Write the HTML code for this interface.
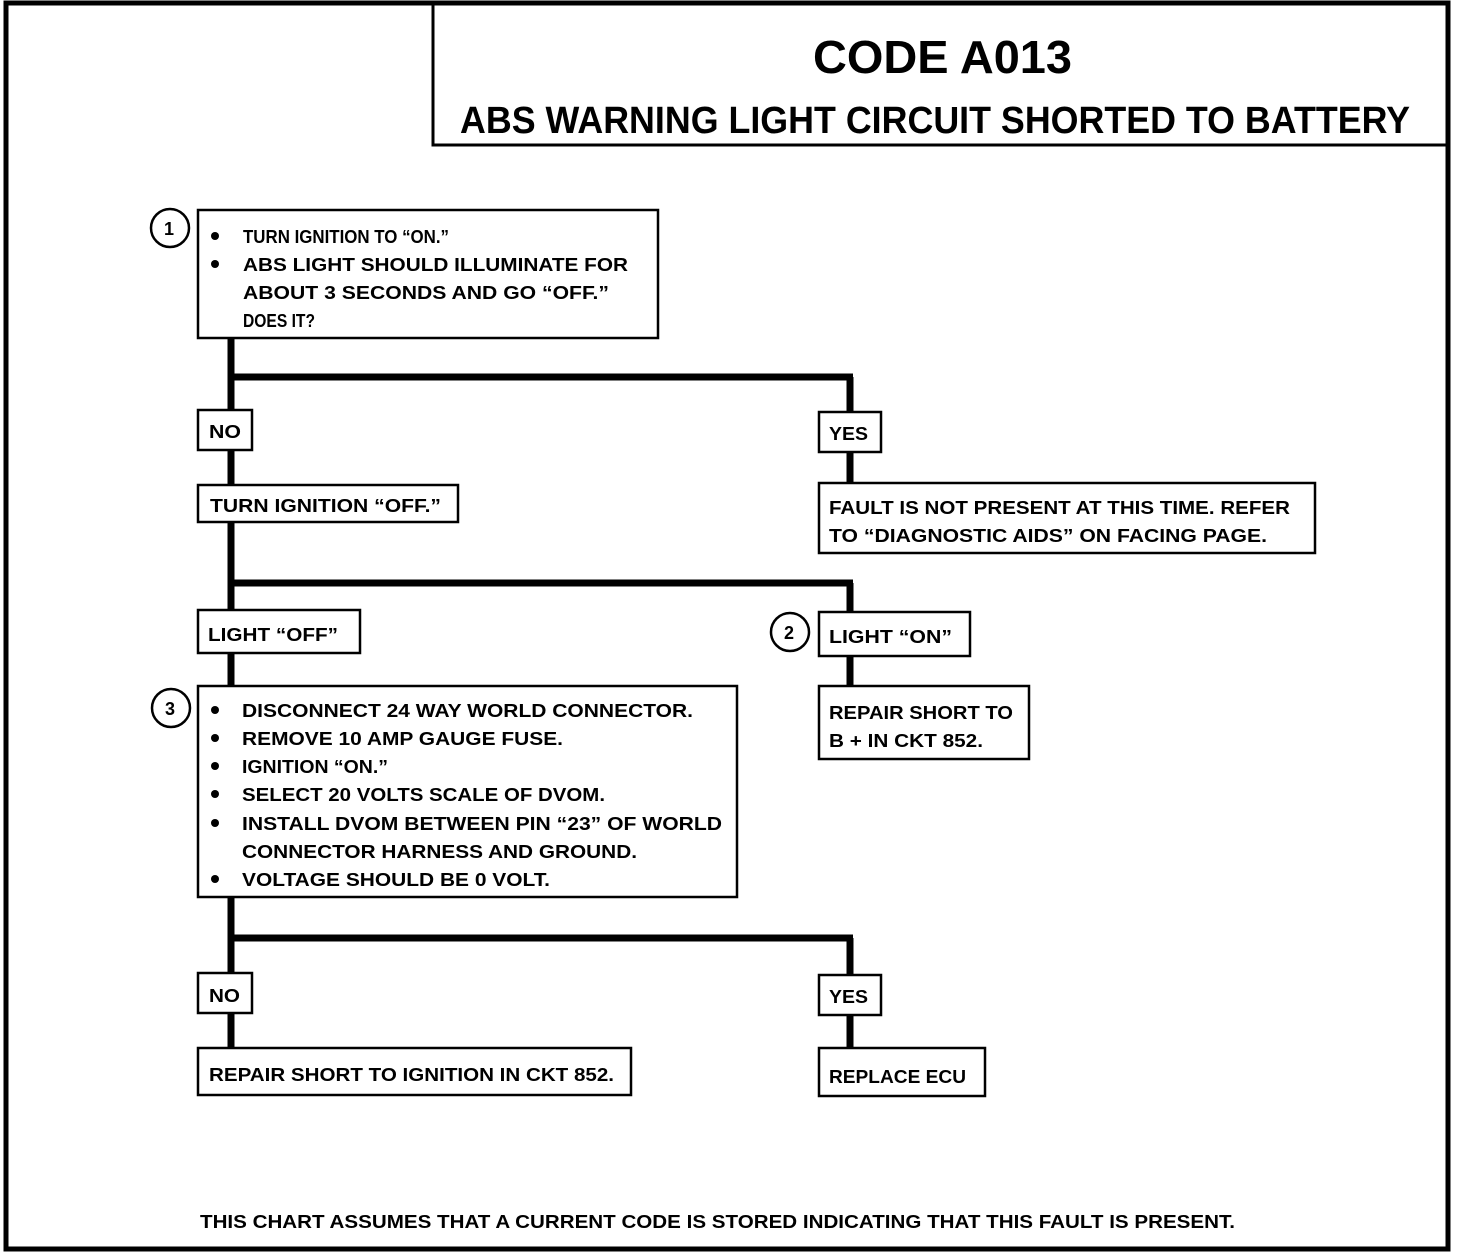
<!DOCTYPE html>
<html><head><meta charset="utf-8"><style>
html,body{margin:0;padding:0;background:#fff;}
svg{display:block;}
text{font-family:"Liberation Sans",sans-serif;font-weight:bold;fill:#000;}
</style></head><body>
<svg width="1472" height="1254" viewBox="0 0 1472 1254" xmlns="http://www.w3.org/2000/svg">
<rect x="0" y="0" width="1472" height="1254" fill="#fff"/>
<!-- outer border -->
<rect x="6" y="3" width="1442" height="1246" fill="none" stroke="#000" stroke-width="5"/>
<!-- title box -->
<rect x="433" y="4" width="1014" height="141" fill="none" stroke="#000" stroke-width="3"/>
<text x="813" y="73" font-size="46" textLength="259" lengthAdjust="spacingAndGlyphs">CODE A013</text>
<text x="460" y="133" font-size="38" textLength="950" lengthAdjust="spacingAndGlyphs">ABS WARNING LIGHT CIRCUIT SHORTED TO BATTERY</text>

<!-- connectors -->
<g stroke="#000" stroke-width="7" fill="none">
<path d="M231 338 V410 M231 450 V485 M228 377 H853 M850 377 V412 M850 452 V483"/>
<path d="M231 522 V610 M231 653 V686 M228 583 H853 M850 583 V612 M850 656 V686"/>
<path d="M231 897 V973 M231 1013 V1048 M228 938 H853 M850 938 V975 M850 1015 V1048"/>
</g>

<g fill="#fff" stroke="#000" stroke-width="2.5">
<rect x="198" y="210" width="460" height="128"/>
<rect x="198" y="410" width="54" height="40"/>
<rect x="819" y="412" width="62" height="40"/>
<rect x="198" y="485" width="260" height="37"/>
<rect x="819" y="483" width="496" height="70"/>
<rect x="198" y="610" width="162" height="43"/>
<rect x="819" y="612" width="151" height="44"/>
<rect x="819" y="686" width="210" height="73"/>
<rect x="198" y="686" width="539" height="211"/>
<rect x="198" y="973" width="54" height="40"/>
<rect x="819" y="975" width="62" height="40"/>
<rect x="198" y="1048" width="433" height="47"/>
<rect x="819" y="1048" width="166" height="48"/>
<circle cx="170" cy="228" r="19"/>
<circle cx="790" cy="632" r="19"/>
<circle cx="171" cy="708" r="19"/>
</g>
<text x="164" y="235" font-size="18">1</text>
<text x="784" y="639" font-size="18">2</text>
<text x="165" y="715" font-size="18">3</text>

<g font-size="18">
<g fill="#000">
<circle cx="215" cy="236" r="4"/><circle cx="215" cy="264" r="4"/>
<circle cx="215" cy="710" r="4"/><circle cx="215" cy="738" r="4"/><circle cx="215" cy="766" r="4"/><circle cx="215" cy="794" r="4"/><circle cx="215" cy="823" r="4"/><circle cx="215" cy="879" r="4"/>
</g>
<text x="243" y="243" textLength="206" lengthAdjust="spacingAndGlyphs">TURN IGNITION TO “ON.”</text>
<text x="243" y="271" textLength="385" lengthAdjust="spacingAndGlyphs">ABS LIGHT SHOULD ILLUMINATE FOR</text>
<text x="243" y="299" textLength="366" lengthAdjust="spacingAndGlyphs">ABOUT 3 SECONDS AND GO “OFF.”</text>
<text x="243" y="327" textLength="72" lengthAdjust="spacingAndGlyphs">DOES IT?</text>

<text x="209" y="438" textLength="32" lengthAdjust="spacingAndGlyphs">NO</text>
<text x="829" y="440" textLength="39" lengthAdjust="spacingAndGlyphs">YES</text>
<text x="210" y="512" textLength="231" lengthAdjust="spacingAndGlyphs">TURN IGNITION “OFF.”</text>
<text x="829" y="514" textLength="461" lengthAdjust="spacingAndGlyphs">FAULT IS NOT PRESENT AT THIS TIME.  REFER</text>
<text x="829" y="542" textLength="438" lengthAdjust="spacingAndGlyphs">TO “DIAGNOSTIC AIDS” ON FACING PAGE.</text>
<text x="208" y="641" textLength="130" lengthAdjust="spacingAndGlyphs">LIGHT “OFF”</text>
<text x="829" y="643" textLength="123" lengthAdjust="spacingAndGlyphs">LIGHT “ON”</text>
<text x="829" y="719" textLength="184" lengthAdjust="spacingAndGlyphs">REPAIR SHORT TO</text>
<text x="829" y="747" textLength="154" lengthAdjust="spacingAndGlyphs">B +  IN CKT 852.</text>

<text x="242" y="717" textLength="451" lengthAdjust="spacingAndGlyphs">DISCONNECT 24 WAY WORLD CONNECTOR.</text>
<text x="242" y="745" textLength="321" lengthAdjust="spacingAndGlyphs">REMOVE 10 AMP GAUGE FUSE.</text>
<text x="242" y="773" textLength="146" lengthAdjust="spacingAndGlyphs">IGNITION “ON.”</text>
<text x="242" y="801" textLength="363" lengthAdjust="spacingAndGlyphs">SELECT 20 VOLTS SCALE OF DVOM.</text>
<text x="242" y="830" textLength="480" lengthAdjust="spacingAndGlyphs">INSTALL DVOM BETWEEN PIN “23” OF WORLD</text>
<text x="242" y="858" textLength="395" lengthAdjust="spacingAndGlyphs">CONNECTOR HARNESS AND GROUND.</text>
<text x="242" y="886" textLength="308" lengthAdjust="spacingAndGlyphs">VOLTAGE SHOULD BE 0 VOLT.</text>

<text x="209" y="1002" textLength="31" lengthAdjust="spacingAndGlyphs">NO</text>
<text x="829" y="1003" textLength="39" lengthAdjust="spacingAndGlyphs">YES</text>
<text x="209" y="1081" textLength="405" lengthAdjust="spacingAndGlyphs">REPAIR SHORT TO IGNITION IN CKT 852.</text>
<text x="829" y="1083" textLength="137" lengthAdjust="spacingAndGlyphs">REPLACE ECU</text>
<text x="200" y="1228" textLength="1035" lengthAdjust="spacingAndGlyphs">THIS CHART ASSUMES THAT A CURRENT CODE IS STORED INDICATING THAT THIS FAULT IS PRESENT.</text>
</g>
</svg>
</body></html>
